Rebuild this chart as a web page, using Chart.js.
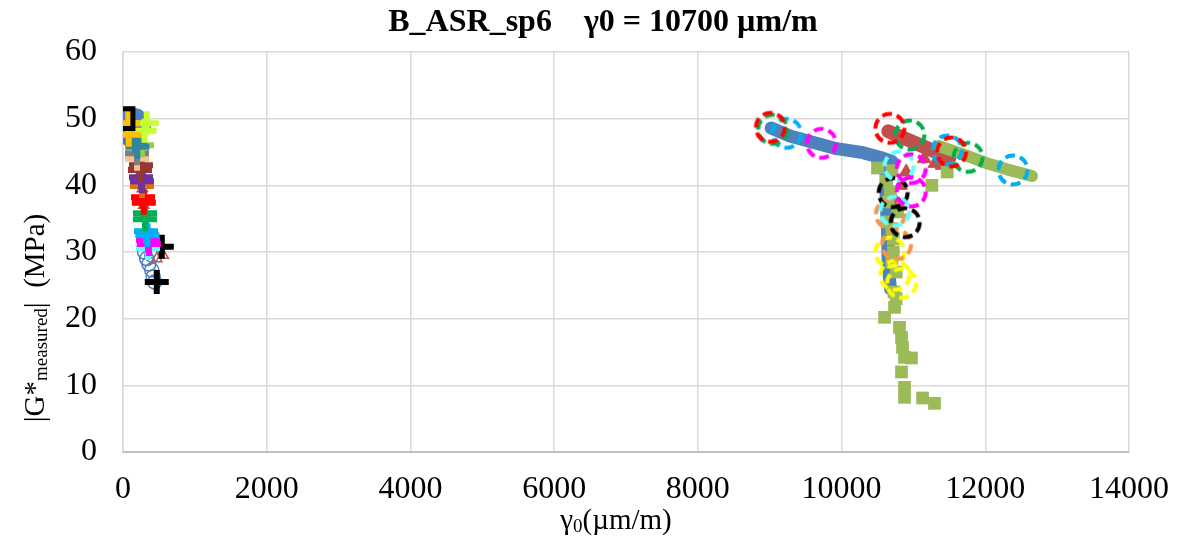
<!DOCTYPE html>
<html>
<head>
<meta charset="utf-8">
<script src="https://cdn.jsdelivr.net/npm/chart.js@4.4.1/dist/chart.umd.min.js"></script>
<style>
  html, body { margin: 0; padding: 0; background: #fff; }
  #wrap { width: 1180px; height: 542px; }
</style>
</head>
<body>
<div id="wrap"><canvas id="chart" width="1180" height="542"></canvas></div>
<script>
const SERIF = '"Liberation Serif", "Times New Roman", serif';
const TITLE = 'B_ASR_sp6    γ0 = 10700 µm/m';

// axis ticks
const xTicks = [0, 2000, 4000, 6000, 8000, 10000, 12000, 14000];
const yTicks = [0, 10, 20, 30, 40, 50, 60];

// right branch - dense marker bands (read along the band)
const blueBandX = [9020, 9280, 9650, 9930, 10300, 10570, 10700, 10620, 10620, 10640, 10650, 10680];
const blueBandY = [48.6, 47.4, 46.3, 45.5, 44.9, 44.1, 43.6, 42.5, 38.0, 33.0, 28.0, 24.5];
const redBandX = [10650, 10950, 11250, 11500];
const redBandY = [48.1, 46.7, 45.3, 44.1];
const redTriX = [11150, 11300, 11400, 10820, 10760, 10900];
const redTriY = [44.0, 43.3, 43.0, 40.0, 37.5, 42.0];
const greenBandX = [11350, 11700, 12000, 12300, 12650];
const greenBandY = [45.9, 44.6, 43.4, 42.4, 41.4];
const greenSqX = [10500, 10700, 11256, 11470, 10620, 10650, 10700, 10720, 10760, 10730,
                  10680, 10780, 10640, 10720, 10700, 10760,
                  10598, 10737, 10806, 10834, 10848, 10876, 10973, 10834, 10876, 10876, 11127, 11293];
const greenSqY = [42.6, 42.2, 40.0, 42.0, 40.6, 37.5, 33.5, 30.0, 27.0, 24.0,
                  39.0, 36.0, 34.5, 32.0, 28.5, 23.0,
                  20.2, 21.7, 18.7, 17.2, 15.7, 14.2, 14.1, 12.0, 9.7, 8.2, 8.1, 7.3];

// dashed rings on the right branch
const ringRedX = [9010, 10672, 11530];
const ringRedY = [48.7, 48.55, 45.0];
const ringGreenX = [9040, 10950, 11760];
const ringGreenY = [48.4, 47.55, 44.2];
const ringBlueX = [9235, 11470, 12385];
const ringBlueY = [47.8, 45.3, 42.3];
const ringMagentaX = [9720, 10970, 10970];
const ringMagentaY = [46.3, 42.5, 39.0];
const ringCyanX = [10800, 10740];
const ringCyanY = [42.9, 36.1];
const ringBlackX = [10718, 10885];
const ringBlackY = [38.9, 34.4];
const ringOrangeX = [10680, 10765];
const ringOrangeY = [35.7, 31.1];
const ringYellowX = [10672, 10741, 10834];
const ringYellowY = [30.0, 26.5, 25.3];

// left branch
const blueDotX = [100, 180, 200, 150, 250, 130];
const blueDotY = [50.3, 50.0, 48.5, 48.0, 49.0, 47.0];
const blueOpenX = [300, 330, 360, 400, 420, 440, 400];
const blueOpenY = [30.0, 29.0, 28.2, 27.3, 26.3, 25.5, 29.5];
const redOpenX = [230, 250, 270, 290, 310, 330, 350, 560, 520, 470];
const redOpenY = [44.0, 42.0, 39.5, 37.0, 35.5, 33.5, 32.0, 29.5, 31.0, 29.0];
const plusColors = ['#FFC000', '#C8FF32', '#31859C', '#92D050', '#7F7F7F', '#FAC090', '#953735',
                    '#7030A0', '#E46C0A', '#FF0000', '#00B050', '#00B0F0', '#FF00FF', '#66FFFF', '#000000'];
const plusX = [[74, 80], [330, 300], [167, 200], [264], [195], [195], [236, 250],
               [250, 264], [264], [278, 290], [306, 306], [320, 340], [348, 360], [348], [540, 470]];
const plusY = [[49.3, 47.6], [49.3, 48.2], [46.6, 45.8], [46.0], [44.8], [44.0], [42.3, 43.0],
               [41.2, 40.6], [39.9], [38.2, 37.4], [35.8, 34.9], [33.1, 32.5], [31.8, 31.2], [30.6], [30.8, 25.5]];
const squareX = [0];
const squareY = [50];

function pts(xs, ys) {
  return xs.map((x, i) => ({ x: x, y: ys[i] }));
}

function dashedRing(color) {
  const c = document.createElement('canvas');
  c.width = 36;
  c.height = 36;
  const g = c.getContext('2d');
  g.strokeStyle = color;
  g.lineWidth = 4;
  g.setLineDash([10, 5]);
  g.beginPath();
  g.arc(18, 18, 14.5, 0, Math.PI * 2);
  g.stroke();
  return c;
}

function band(xs, ys, color, width, order) {
  return {
    data: pts(xs, ys), showLine: true, borderColor: color, borderWidth: width,
    borderJoinStyle: 'round', borderCapStyle: 'round', pointRadius: 0, order: order
  };
}

function ring(xs, ys, color) {
  return { data: pts(xs, ys), pointStyle: dashedRing(color), pointRadius: 15, order: 1 };
}

const datasets = [
  band(blueBandX, blueBandY, '#4F81BD', 13, 9),
  band(redBandX, redBandY, '#C0504D', 14, 8),
  band(greenBandX, greenBandY, '#9BBB59', 12, 7),
  { data: pts(redTriX, redTriY), pointStyle: 'triangle', pointRadius: 8,
    backgroundColor: '#C0504D', borderColor: '#C0504D', order: 6 },
  { data: pts(greenSqX, greenSqY), pointStyle: 'rect', pointRadius: 9,
    backgroundColor: '#9BBB59', borderColor: '#9BBB59', borderWidth: 0, order: 5 },
  { data: pts(blueDotX, blueDotY), pointStyle: 'circle', pointRadius: 10,
    backgroundColor: '#4F81BD', borderColor: '#4F81BD', order: 6 },
  { data: pts(blueOpenX, blueOpenY), pointStyle: 'circle', pointRadius: 7,
    backgroundColor: 'rgba(0,0,0,0)', borderColor: '#4F81BD', borderWidth: 1.5, order: 6 },
  { data: pts(redOpenX, redOpenY), pointStyle: 'triangle', pointRadius: 6,
    backgroundColor: 'rgba(0,0,0,0)', borderColor: '#C0504D', borderWidth: 1.5, order: 5 },
  ring(ringRedX, ringRedY, '#FF0000'),
  ring(ringGreenX, ringGreenY, '#00B050'),
  ring(ringBlueX, ringBlueY, '#00B0F0'),
  ring(ringMagentaX, ringMagentaY, '#FF00FF'),
  ring(ringCyanX, ringCyanY, '#66FFFF'),
  ring(ringBlackX, ringBlackY, '#000000'),
  ring(ringOrangeX, ringOrangeY, '#F79646'),
  ring(ringYellowX, ringYellowY, '#FFFF00'),
  { data: pts(squareX, squareY), pointStyle: 'rect', pointRadius: 14,
    backgroundColor: 'rgba(0,0,0,0)', borderColor: '#000000', borderWidth: 5, order: 0 }
];

plusColors.forEach((c, i) => {
  datasets.push({
    data: pts(plusX[i], plusY[i]), pointStyle: 'cross', pointRadius: 12,
    borderColor: c, backgroundColor: c, borderWidth: 6, order: 2
  });
});

// text runs with subscripts
function drawRuns(ctx, runs, cx, cy) {
  let total = 0;
  runs.forEach(r => {
    ctx.font = (r.weight || '') + ' ' + r.size + 'px ' + SERIF;
    r.w = ctx.measureText(r.t).width;
    total += r.w;
  });
  let x = cx - total / 2;
  runs.forEach(r => {
    ctx.font = (r.weight || '') + ' ' + r.size + 'px ' + SERIF;
    ctx.fillText(r.t, x, cy + (r.dy || 0));
    x += r.w;
  });
}

const chartTexts = {
  id: 'chartTexts',
  afterDraw(chart) {
    const ctx = chart.ctx;
    ctx.save();
    ctx.fillStyle = '#000';
    ctx.textBaseline = 'middle';
    ctx.textAlign = 'left';
    drawRuns(ctx, [{ t: TITLE, size: 32, weight: 'bold' }], 603, 23);
    drawRuns(ctx, [
      { t: 'γ', size: 29 }, { t: '0', size: 19, dy: 6 }, { t: '(µm/m)', size: 29 }
    ], 616, 521);
    ctx.translate(36, 318);
    ctx.rotate(-Math.PI / 2);
    drawRuns(ctx, [
      { t: '|G*', size: 29 }, { t: 'measured', size: 19, dy: 6 }, { t: '|  (MPa)', size: 29 }
    ], 0, 0);
    ctx.restore();
  }
};

new Chart(document.getElementById('chart'), {
  type: 'scatter',
  data: { datasets: datasets },
  options: {
    responsive: false,
    animation: false,
    layout: { padding: { left: 0, right: 51, top: 52, bottom: 0 } },
    plugins: {
      legend: { display: false },
      tooltip: { enabled: false },
      title: { display: false }
    },
    scales: {
      x: {
        type: 'linear',
        min: xTicks[0],
        max: xTicks[xTicks.length - 1],
        afterBuildTicks: s => { s.ticks = xTicks.map(v => ({ value: v })); },
        afterFit: s => { s.height = 90; s.paddingLeft = 0; s.paddingRight = 0; },
        ticks: { color: '#000', font: { family: SERIF, size: 32 }, padding: 18, maxRotation: 0,
                 callback: v => String(v) },
        grid: { color: '#D9D9D9', lineWidth: 1.5, drawTicks: false },
        border: { color: '#BFBFBF', width: 2 }
      },
      y: {
        type: 'linear',
        min: yTicks[0],
        max: yTicks[yTicks.length - 1],
        afterBuildTicks: s => { s.ticks = yTicks.map(v => ({ value: v })); },
        afterFit: s => { s.width = 123; },
        ticks: { color: '#000', font: { family: SERIF, size: 32 }, padding: 26,
                 callback: v => String(v) },
        grid: { color: '#D9D9D9', lineWidth: 1.5, drawTicks: false },
        border: { color: '#D9D9D9', width: 1.5 }
      }
    }
  },
  plugins: [chartTexts]
});
</script>
</body>
</html>
